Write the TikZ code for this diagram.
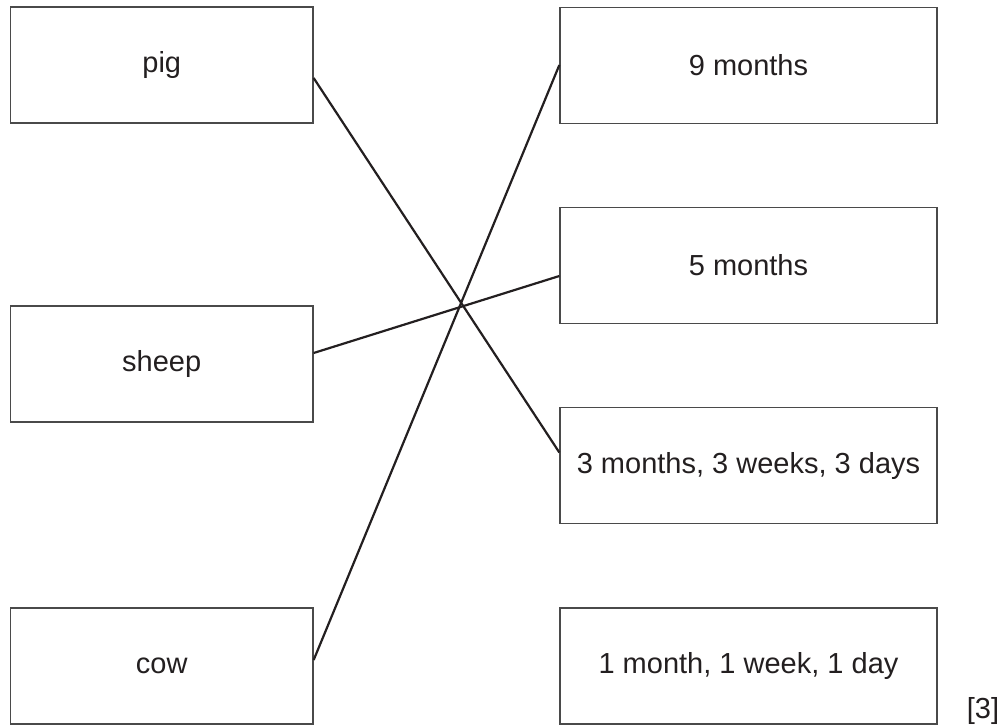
\documentclass[tikz,border=0pt]{standalone}
\usepackage{fontspec}
\setmainfont{Liberation Sans}
\definecolor{ink}{HTML}{231F20}
\definecolor{boxline}{HTML}{4A4A4A}
\begin{document}
\begin{tikzpicture}[x=1pt,y=-1pt,
  cardbox/.style={draw=boxline,line width=1.3pt,rectangle,inner sep=0pt,
    minimum width=302.5pt,minimum height=116pt,font=\fontsize{29}{34}\selectfont,text=ink},
  rcardbox/.style={cardbox,minimum width=377pt},
  link/.style={draw=ink,line width=2.2pt}]
\useasboundingbox (0,0) rectangle (1002,728);
\node[cardbox] (pig) at (161.75,65) {pig};
\node[cardbox] (sheep) at (161.75,364) {sheep};
\node[cardbox] (cow) at (161.75,666) {cow};
\node[rcardbox] (m9) at (748.5,65.5) {9 months};
\node[rcardbox] (m5) at (748.5,265.5) {5 months};
\node[rcardbox] (m3) at (748.5,465.5) {3 months, 3 weeks, 3 days};
\node[rcardbox] (m1) at (748.5,666) {1 month, 1 week, 1 day};
\node[font=\fontsize{29}{34}\selectfont,text=ink,inner sep=0pt] (mark) at (983,711) {[3]};
\draw[link] ([yshift=-13pt]pig.east) -- ([yshift=13pt]m3.west);
\draw[link] ([yshift=11pt]sheep.east) -- ([yshift=-10.5pt]m5.west);
\draw[link] ([yshift=6pt]cow.east) -- ([yshift=0.5pt]m9.west);
\end{tikzpicture}
\end{document}
